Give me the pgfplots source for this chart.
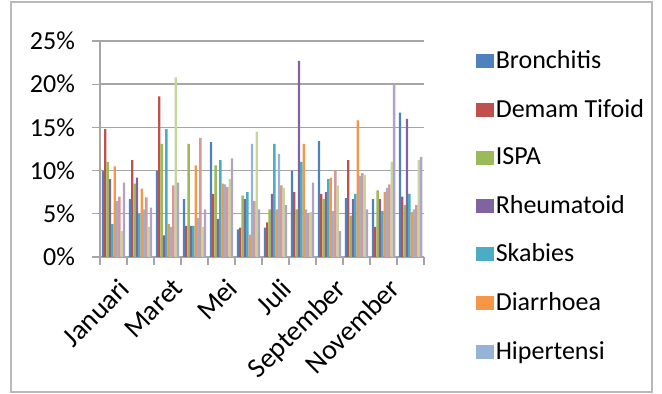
\documentclass[border=0pt]{standalone}
\usepackage{pgfplots}
\usepackage{pgfplotstable}
\pgfplotsset{compat=1.18}
\usepackage{fontspec}
\setmainfont{Carlito}
\definecolor{c1}{HTML}{4F81BD}
\definecolor{c2}{HTML}{C0504D}
\definecolor{c3}{HTML}{9BBB59}
\definecolor{c4}{HTML}{8064A2}
\definecolor{c5}{HTML}{4BACC6}
\definecolor{c6}{HTML}{F79646}
\definecolor{c7}{HTML}{95B3D7}
\definecolor{c8}{HTML}{D99795}
\definecolor{c9}{HTML}{C3D69B}
\definecolor{c10}{HTML}{B3A2C7}
\definecolor{gridc}{HTML}{A6A6A6}
\pgfplotstableread{
m  B     DT    IS    RH    SK    DI    HI    PK    LG    LV
0  10.0  14.8  11.0  9.0   3.8   10.5  6.5   7.0   3.0   8.6
1  6.7   11.2  8.5   9.2   5.0   7.9   5.5   6.9   3.5   5.7
2  10.0  18.6  13.1  2.5   14.8  3.8   3.5   8.3   20.8  8.6
3  6.7   3.6   13.1  3.6   3.6   10.6  4.5   13.8  3.5   5.5
4  13.3  7.3   10.6  4.4   11.2  8.5   8.4   8.1   9.0   11.4
5  3.2   3.4   7.1   6.7   7.5   2.6   13.1  6.5   14.5  5.5
6  3.4   4.0   5.5   7.3   13.1  5.5   11.9  8.3   8.0   6.0
7  10.0  7.5   5.5   22.7  11.0  13.1  5.5   5.0   5.2   8.6
8  13.4  7.3   6.7   7.5   9.0   9.2   5.3   10.0  8.3   3.0
9  6.8   11.2  4.8   6.7   7.3   15.8  9.4   9.7   9.5   5.5
10 6.7   3.5   7.7   6.7   5.3   7.5   8.0   8.4   11.0  20.0
11 16.7  7.0   6.0   16.0  7.3   5.2   5.5   6.0   11.2  11.6
}\data
\pgfplotsset{mylg/.style={legend image code/.code={\fill[##1] (0pt,-3.5pt) rectangle (9pt,3.5pt);}}}
\begin{document}
\begin{tikzpicture}[font=\fontsize{13}{15.6}\selectfont]
\useasboundingbox (0,0) rectangle (331pt,197pt);
\draw[gray!55, line width=0.8pt] (5.5pt,1pt) rectangle (326pt,196pt);
\begin{axis}[
  at={(50pt,68.5pt)}, anchor=south west,
  scale only axis, width=162pt, height=108pt,
  ybar=0pt, bar width=0.087,
  xmin=-0.5, xmax=11.5, ymin=0, ymax=25,
  ytick={0,5,...,25},
  yticklabel={\pgfmathprintnumber{\tick}\%},
  /pgf/number format/assume math mode=true,
  xtick={0,2,...,10},
  xticklabels={Januari,Maret,Mei,Juli,September,November},
  minor xtick={-0.5,0.5,...,11.5},
  xticklabel style={rotate=45, anchor=north east, inner sep=1pt, xshift=-1.5pt, yshift=-4.5pt,
    font=\fontsize{14}{16}\selectfont},
  yticklabel style={xshift=-5pt},
  major x tick style={draw=none},
  tick align=outside,
  major tick length=4pt, minor tick length=4pt,
  tick style={gridc, line width=0.6pt},
  minor tick style={gridc, line width=0.6pt},
  ymajorgrids, grid style={gridc, line width=0.7pt},
  axis x line*=bottom, axis y line*=left,
  axis line style={-, gridc, line width=0.7pt},
  mylg,
  legend style={at={(1.14,0.995)}, anchor=north west, draw=none, fill=none,
    row sep=9.8pt, font=\fontsize{13}{15.6}\selectfont,
    nodes={inner xsep=1pt},
    /tikz/every even column/.append style={column sep=1pt}},
  legend cell align=left,
  legend entries={Bronchitis, Demam Tifoid, ISPA, Rheumatoid, Skabies, Diarrhoea, Hipertensi},
]
\addplot[fill=c1, draw=none, mylg] table[x=m, y=B] {\data};
\addplot[fill=c2, draw=none, mylg] table[x=m, y=DT] {\data};
\addplot[fill=c3, draw=none, mylg] table[x=m, y=IS] {\data};
\addplot[fill=c4, draw=none, mylg] table[x=m, y=RH] {\data};
\addplot[fill=c5, draw=none, mylg] table[x=m, y=SK] {\data};
\addplot[fill=c6, draw=none, mylg] table[x=m, y=DI] {\data};
\addplot[fill=c7, draw=none, mylg] table[x=m, y=HI] {\data};
\addplot[fill=c8, draw=none, mylg] table[x=m, y=PK] {\data};
\addplot[fill=c9, draw=none, mylg] table[x=m, y=LG] {\data};
\addplot[fill=c10, draw=none, mylg] table[x=m, y=LV] {\data};
\end{axis}
\end{tikzpicture}
\end{document}
